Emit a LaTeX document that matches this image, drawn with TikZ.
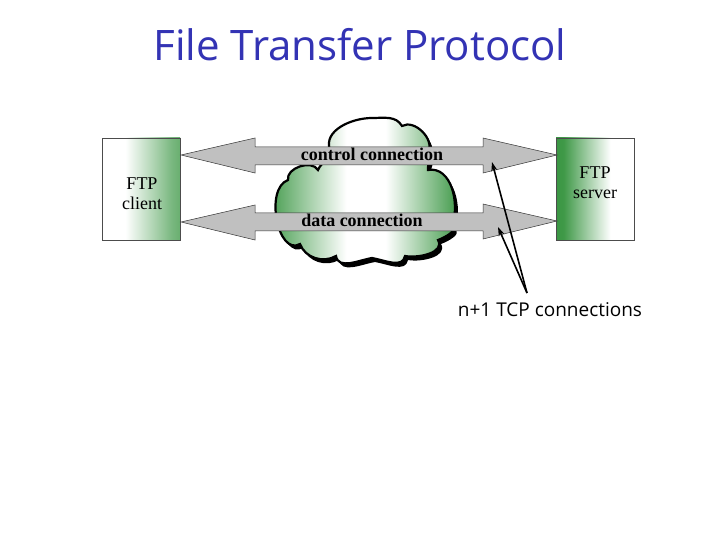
\documentclass[tikz,border=0pt]{standalone}
\usepackage{fontspec}
\setmainfont{Liberation Serif}
\newfontfamily\titlefont{Open Sans}
\usetikzlibrary{arrows.meta}
\definecolor{ftpgreen}{RGB}{30,135,40}
\definecolor{titleblue}{RGB}{51,51,180}
\definecolor{pipegray}{RGB}{192,192,192}
\pgfdeclarehorizontalshading{clientshade}{100bp}{color(0bp)=(white); color(40bp)=(white); color(70bp)=(white!40!ftpgreen); color(100bp)=(ftpgreen)}
\pgfdeclarehorizontalshading{servershade}{100bp}{color(0bp)=(ftpgreen); color(30bp)=(ftpgreen!85!white); color(60bp)=(white); color(100bp)=(white)}
\pgfdeclarehorizontalshading{cloudshade}{100bp}{color(0bp)=(ftpgreen); color(22bp)=(ftpgreen); color(46bp)=(white); color(56bp)=(white); color(78bp)=(ftpgreen); color(100bp)=(ftpgreen)}
\tikzset{
  hostbox/.style={draw=black!70, line width=0.6pt, minimum width=78pt, minimum height=102pt, inner sep=0pt},
  pipe/.style={fill=pipegray, draw=black!80, line width=0.5pt, line join=miter},
  pipelabel/.style={font=\fontsize{18}{18}\selectfont\bfseries, inner sep=0pt},
  hostlabel/.style={font=\fontsize{18}{20}\selectfont, align=center, inner sep=0pt},
  pointer/.style={draw=black, line width=1.6pt, -{Stealth[length=9pt,width=6pt]}},
}
\begin{document}
\begin{tikzpicture}[x=1pt,y=-1pt]
\useasboundingbox (0,0) rectangle (720,540);
% title
\node[font=\titlefont\fontsize{42}{42}\selectfont, text=titleblue, inner sep=0pt] (title) at (360,45) {File Transfer Protocol};
% hosts
\node[hostbox, shading=clientshade] (client) at (141,189) {};
\node[hostlabel] (clientlabel) at (142,194) {FTP\\client};
\node[hostbox, shading=servershade] (server) at (595,189) {};
\node[hostlabel] (serverlabel) at (595,183) {FTP\\server};
% cloud shadow
\def\cloudpath{(330,150) to[out=110,in=180] (372,118) to[out=0,in=120] (402,126)
  to[out=30,in=60] (428,152) to[out=-10,in=100] (428,170)
  to[out=10,in=70] (452,226) to[out=-30,in=20] (438,240)
  to[out=-60,in=-10] (405,256) to[out=-100,in=-10] (372,258)
  to[out=-170,in=-80] (336,256) to[out=-150,in=-70] (300,244)
  to[out=-150,in=-160] (288,180) to[out=100,in=120] (318,170)
  to[out=70,in=-70] cycle}
\fill[black, shift={(3pt,-4pt)}] \cloudpath;
\shade[shading=cloudshade, draw=black, line width=2.2pt] \cloudpath;
\coordinate (cloud) at (372,190);
% control connection pipe
\draw[pipe] (181,155) -- (255,138) -- (255,147) -- (483,147) -- (483,138) -- (557,155)
  -- (483,173) -- (483,165) -- (255,165) -- (255,173) -- cycle;
% data connection pipe
\draw[pipe] (181,222) -- (255,205) -- (255,213) -- (483,213) -- (483,204) -- (557,221)
  -- (483,239) -- (483,231) -- (255,231) -- (255,240) -- cycle;
\node[pipelabel] (ctrl) at (372,154) {control connection};
\node[pipelabel] (data) at (362,220) {data connection};
% pointer label
\node[font=\titlefont\fontsize{19}{19}\selectfont, inner sep=0pt] (tcp) at (550,310) {n+1 TCP connections};
\coordinate (apex) at (527,293);
\coordinate (ctrltip) at (492,162);
\coordinate (datatip) at (498,227);
\draw[pointer] (apex) -- (ctrltip);
\draw[pointer] (apex) -- (datatip);
\end{tikzpicture}
\end{document}
